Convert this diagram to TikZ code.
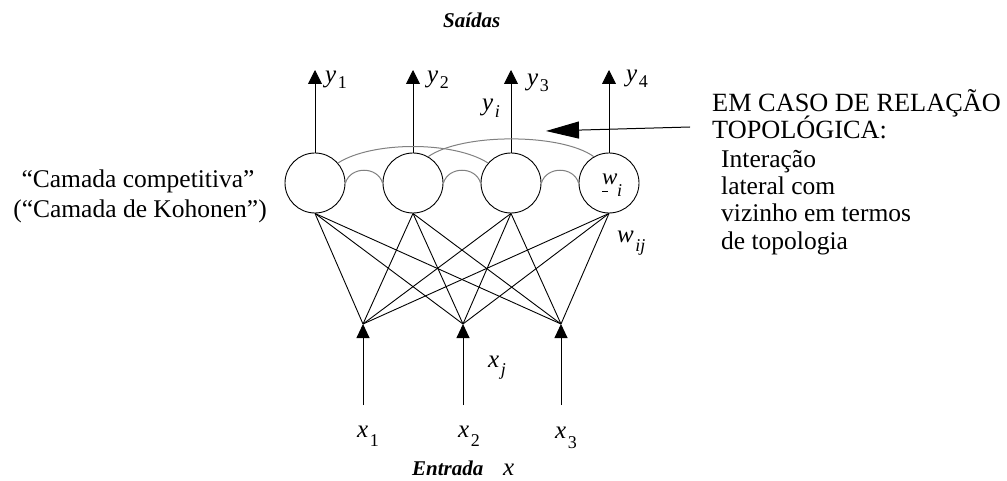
\documentclass[tikz,border=0pt]{standalone}
\usepackage{fontspec}
\setmainfont{Liberation Serif}
\usetikzlibrary{arrows.meta}
\newcommand{\bigtxt}{\fontsize{25.5}{27.5}\selectfont}
\newcommand{\captxt}{\fontsize{26.3}{28}\selectfont}
\newcommand{\vartxt}{\fontsize{25}{28}\selectfont}
\newcommand{\bitxt}{\fontsize{21}{25}\selectfont\bfseries\itshape}
% variable with lowered subscript: #1 letter, #2 subscript, #3 drop
\newcommand{\vsub}[3]{\textit{#1}\kern1.5pt\raisebox{-#3}{\fontsize{18}{20}\selectfont #2}}
\tikzset{
  neuron/.style={draw, circle, minimum size=60pt, inner sep=0pt, line width=0.9pt},
  wire/.style={line width=0.9pt},
  lat/.style={draw=black!50, line width=1pt},
  outarrow/.style={line width=0.9pt, -{Triangle[length=14pt,width=14pt]}},
  inarrow/.style={line width=0.9pt, -{Triangle[length=14pt,width=13pt]}},
  bigarrow/.style={line width=1pt, -{Triangle[length=33pt,width=17pt]}},
  lbl/.style={inner sep=0pt, anchor=base west, font=\vartxt},
  txt/.style={inner sep=0pt, font=\bigtxt}
}
\begin{document}
\begin{tikzpicture}[x=1pt,y=-1pt]
\useasboundingbox (0,0) rectangle (1007,481);
% neurons
\node[neuron] (n1) at (315,183) {};
\node[neuron] (n2) at (413,183) {};
\node[neuron] (n3) at (511,183) {};
\node[neuron] (n4) at (609,183) {};
% output tips
\coordinate (o1) at (315,70);
\coordinate (o2) at (413,70);
\coordinate (o3) at (511,70);
\coordinate (o4) at (609,70);
\foreach \i in {1,...,4} \draw[outarrow] (n\i.north) -- (o\i);
% inputs
\coordinate (in1) at (363,324);
\coordinate (in2) at (463,324);
\coordinate (in3) at (561,324);
\coordinate (s1) at (363,405);
\coordinate (s2) at (463,405);
\coordinate (s3) at (561,405);
\foreach \j in {1,2,3} {
  \foreach \i in {1,...,4} \draw[wire] (in\j) -- (n\i.south);
  \draw[inarrow] (s\j) -- (in\j);
}
% lateral connections
\draw[lat] (n1.east) .. controls +(5,-17) and +(-5,-17) .. (n2.west);
\draw[lat] (n2.east) .. controls +(5,-17) and +(-5,-17) .. (n3.west);
\draw[lat] (n3.east) .. controls +(5,-17) and +(-5,-17) .. (n4.west);
\draw[lat] (n1.41) .. controls (372,141) and (454,141) .. (n3.139);
\draw[lat] (n2.60) .. controls (462,133) and (561,133) .. (n4.120);
% big arrow
\coordinate (aS) at (690,127);
\coordinate (aE) at (546,131);
\draw[bigarrow] (aS) -- (aE);
% labels
\node[lbl] (ly1) at (325,83) {\vsub{y}{1}{6pt}};
\node[lbl] (ly2) at (427,83) {\vsub{y}{2}{6pt}};
\node[lbl] (ly3) at (527,86) {\vsub{y}{3}{6pt}};
\node[lbl] (ly4) at (626,82) {\vsub{y}{4}{6pt}};
\node[lbl] (lyi) at (482,111) {\vsub{y}{\textit{i}}{7pt}};
\node[lbl, font=\fontsize{23}{26}\selectfont] (lwi) at (602,185) {\textit{w}};
\draw[line width=1pt] (602,192) -- (608,192);
\node[lbl, font=\fontsize{18}{20}\selectfont] (lwii) at (617,197) {\textit{i}};
\node[lbl] (lwij) at (617,243) {\vsub{w}{\textit{ij}}{9pt}};
\node[lbl] (lxj) at (488,367) {\vsub{x}{\textit{j}}{8pt}};
\node[lbl] (lx1) at (357,437) {\vsub{x}{1}{9pt}};
\node[lbl] (lx2) at (458,437) {\vsub{x}{2}{9pt}};
\node[lbl] (lx3) at (555,438) {\vsub{x}{3}{10pt}};
\node[inner sep=0pt, anchor=base west, font=\bitxt] (ent) at (412,475) {Entrada};
\node[lbl] (lx) at (503,475) {\textit{x}};
\node[inner sep=0pt, anchor=base west, font=\bitxt] (sai) at (443,28) {Saídas};
% left text
\node[txt, anchor=base] (cc) at (138,188) {“Camada competitiva”};
\node[txt, anchor=base] (ck) at (140,218) {(“Camada de Kohonen”)};
% right text
\node[txt, font=\captxt, anchor=base west] (r1) at (712,112) {EM CASO DE RELAÇÃO};
\node[txt, font=\captxt, anchor=base west] (r2) at (712,139) {TOPOLÓGICA:};
\node[txt, anchor=base west] (r3) at (721,168) {Interação};
\node[txt, anchor=base west] (r4) at (721,195) {lateral com};
\node[txt, anchor=base west] (r5) at (721,222) {vizinho em termos};
\node[txt, anchor=base west] (r6) at (721,250) {de topologia};
\end{tikzpicture}
\end{document}
